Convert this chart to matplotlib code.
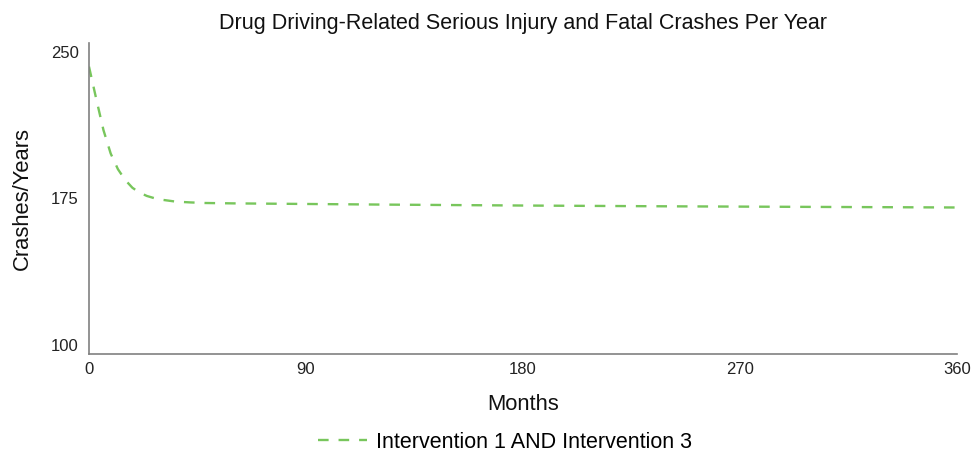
import matplotlib
import matplotlib.pyplot as plt

matplotlib.use("Agg")

plt.rcParams["font.family"] = ["Liberation Sans", "DejaVu Sans"]

# values
months = [0, 3, 6, 9, 12, 15, 18, 21, 24, 27, 30, 36, 42, 48, 60, 90, 120, 180, 240, 300, 360]
crashes = [242.5, 226, 210, 198, 190, 184.5, 180.5, 178, 176.3, 175.2, 174.4, 173.4, 173.0, 172.7,
           172.5, 172.2, 171.9, 171.4, 171.0, 170.7, 170.4]
x_ticks = [0, 90, 180, 270, 360]
y_ticks = [100, 175, 250]
series_name = "Intervention 1 AND Intervention 3"

fig = plt.figure(figsize=(9.77, 4.57), dpi=100)
ax = fig.add_axes([89 / 977, 103 / 457, 868 / 977, 311 / 457])

ax.plot(months, crashes, color="#78c65c", linewidth=1.7, dashes=(4.5, 4.2), label=series_name)

ax.set_xlim(0, 360)
ax.set_ylim(95.4, 254.6)
ax.set_xticks(x_ticks)
ax.set_yticks(y_ticks)
ax.tick_params(length=0, labelsize=12, colors="#222222")
ax.tick_params(axis="x", pad=6)
ax.tick_params(axis="y", pad=7.5)

for side in ("top", "right"):
    ax.spines[side].set_visible(False)
for side in ("left", "bottom"):
    ax.spines[side].set_color("#808080")
    ax.spines[side].set_linewidth(1.2)

ax.set_title("Drug Driving-Related Serious Injury and Fatal Crashes Per Year", fontsize=15.5, color="#111111", pad=10)
ax.set_xlabel("Months", fontsize=15.8, color="#111111", labelpad=12)
ax.set_ylabel("Crashes/Years", fontsize=15.8, color="#111111", labelpad=13)

fig.legend(*ax.get_legend_handles_labels(), loc="center", bbox_to_anchor=(505 / 977, 15 / 457),
           frameon=False, fontsize=15.5, handlelength=2.3, handletextpad=0.42)

fig.savefig("out.png", dpi=100)
